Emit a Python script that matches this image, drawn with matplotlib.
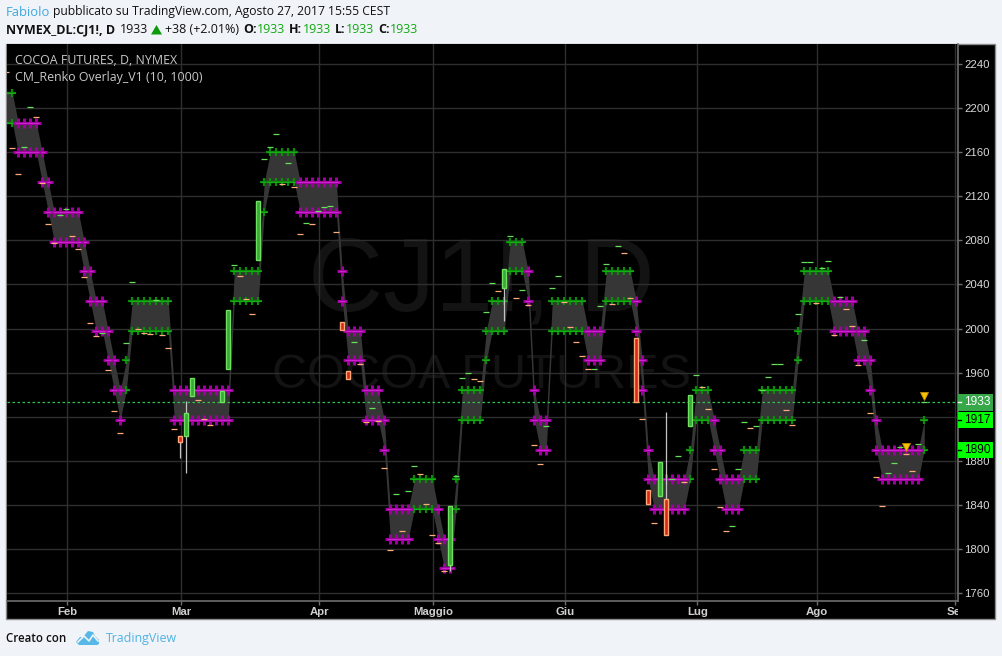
import matplotlib
matplotlib.use("Agg")
import matplotlib.pyplot as plt
from matplotlib.patches import Rectangle, Polygon
from matplotlib.transforms import Bbox

# ---------- data ----------
seg_first = [1,3,7,8,9,14,15,16,18,19,20,21,22,29,39,44,45,50,57,58,61,64,65,69,73,74,76,77,81,82,85,88,89,90,92,98,101,106,107,108,109,115,116,119,120,121,124,127,133,134,139,143,145,146,147,154]
seg_last  = [2,6,7,8,13,14,15,17,18,19,20,21,28,38,43,44,49,56,57,60,63,64,68,72,73,75,76,80,81,84,87,88,89,91,97,100,105,106,107,108,114,115,118,119,120,123,126,132,133,138,142,144,145,146,153,154]
seg_upper = [2214,2187,2160,2133,2106,2079,2052,2025,1998,1971,1944,1971,2025,1944,2052,2133,2160,2133,2052,1998,1944,1917,1836,1863,1836,1809,1863,1944,1998,2025,2079,2052,1944,1917,2025,1998,2052,2025,1971,1890,1863,1890,1944,1917,1890,1863,1890,1944,1998,2052,2025,1998,1971,1917,1890,1917]
seg_lower = [2187,2160,2133,2106,2079,2052,2025,1998,1971,1944,1917,1944,1998,1917,2025,2106,2133,2106,2025,1971,1917,1890,1809,1836,1809,1782,1836,1917,1971,1998,2052,2025,1917,1890,1998,1971,2025,1998,1944,1863,1836,1863,1917,1890,1863,1836,1863,1917,1971,2025,1998,1971,1944,1890,1863,1890]
seg_rising = [1,0,0,0,0,0,0,0,0,0,0,1,1,0,1,1,1,0,0,0,0,0,0,1,0,0,1,1,1,1,1,0,0,0,1,0,1,0,0,0,0,1,1,0,0,0,1,1,1,1,0,0,0,0,0,1]

green_dash_bars = [4,5,10,11,17,21,22,26,39,44,45,46,48,51,53,54,55,59,62,66,68,69,76,77,78,81,82,85,87,91,92,93,99,100,101,103,112,113,116,122,123,124,126,127,128,129,130,133,134,135,137,138,140,144,148,149,150,153,154]
green_dash_vals = [2165,2201,2103,2109,1996,1987,2042,2026,2058,2154,2165,2177,2150,2096,2107,2110,2111,1988,1928,1850,1852,1875,1866,1955,1960,2015,2041,2084,2035,1911,2037,2048,1963,2020,2059,2075,1863,1884,1958,1821,1872,1915,1911,1944,1956,1968,1968,2013,2060,2060,2055,2061,2029,1990,1869,1878,1892,1895,1933]
orange_dash_bars = [1,2,3,6,7,8,9,12,13,14,15,16,18,19,20,23,24,25,27,28,29,33,34,35,40,41,42,47,49,50,52,56,60,61,63,64,65,67,70,71,72,73,74,79,80,83,86,88,89,90,94,95,96,97,98,102,104,105,107,109,114,117,118,119,120,121,125,131,132,136,139,141,142,143,145,146,147,151,152]
orange_dash_vals = [2233,2164,2140,2192,2132,2095,2078,2084,2072,2047,2005,1993,1962,1925,1905,2000,1996,1995,1994,1982,1909,1935,1918,1912,2048,2027,2013,2131,2129,2086,2095,2088,1968,1915,1916,1873,1799,1816,1868,1841,1812,1805,1780,1954,1952,2034,2028,2021,1894,1877,2024,2001,1988,1975,1963,2022,2069,2028,1918,1823,1861,1947,1927,1872,1838,1816,1910,1926,1912,2023,1994,2018,2002,1967,1923,1865,1839,1886,1871]

candle_bars  = [30,31,32,37,38,43,57,58,75,84,106,108,110,111,115]
candle_open  = [1902,1902,1939,1933,1963,2062,2006,1961,1785,2037,1991,1853,1848,1845,1911]
candle_close = [1897,1923,1955,1943,2017,2116,1999,1954,1839,2054,1933,1841,1879,1812,1940]
candle_high  = [1902,1934,1955,1943,2017,2116,2006,1961,1839,2054,1991,1853,1879,1924,1940]
candle_low   = [1882,1869,1939,1933,1963,2062,1999,1954,1780,2007,1933,1841,1848,1812,1911]

signal_bars = [151,154]
signal_vals = [1892,1939]

price_ticks = [2240,2200,2160,2120,2080,2040,2000,1960,1920,1880,1840,1800,1760]
price_tick_labels = ["2240","2200","2160","2120","2080","2040","2000","1960","","1880","1840","1800","1760"]
month_bars = [11,30,53,72,94,116,136,159]
month_labels = ["Feb","Mar","Apr","Maggio","Giu","Lug","Ago","Set"]
last_price = 1933
label_prices = [1933,1917,1890]
label_texts = ["1933","1917","1890"]

# ---------- expand the renko segments ----------
bars, upper, lower, rising = [], [], [], []
for a, b, u, l, r in zip(seg_first, seg_last, seg_upper, seg_lower, seg_rising):
    for k in range(a, b + 1):
        bars.append(k); upper.append(u); lower.append(l); rising.append(r)

W, H = 1002, 656
BG = "#f0f3f8"
GRID = "#2e2e2e"
AXC = "#6e6e6e"
SANS = "Liberation Sans"
HEAD = "Open Sans"

fig = plt.figure(figsize=(W/100, H/100), dpi=100, facecolor=BG)

# chrome in pixel coordinates
back = fig.add_axes([0, 0, 1, 1], zorder=0)
back.set_xlim(0, W); back.set_ylim(H, 0); back.axis("off")
back.add_patch(Rectangle((6.5, 43.5), 989, 575.5, facecolor="black", edgecolor="#8a8a8a", lw=1))

# main pane
L, R, T, B = 7.0, 958.0, 43.8, 600.5
ax = fig.add_axes([L/W, 1-B/H, (R-L)/W, (B-T)/H], zorder=1, facecolor="black")
ax.set_xlim((L-0.3)/6, (R-0.3)/6)
ax.set_ylim(1760-(B-592.7)/1.1, 2240+(64.3-T)/1.1)
for s in ("left", "top"):
    ax.spines[s].set_visible(False)
for s in ("right", "bottom"):
    ax.spines[s].set_color(AXC); ax.spines[s].set_linewidth(1.2)
ax.set_axisbelow(True)
ax.grid(True, color=GRID, lw=1)
ax.yaxis.tick_right()
ax.set_yticks(price_ticks)
ax.set_yticklabels(price_tick_labels, fontfamily=SANS, fontsize=8.2, color="#d8d8d8")
ax.set_xticks([m + 0.17 for m in month_bars])
tl = ax.set_xticklabels(month_labels, fontfamily=SANS, fontsize=8.2, color="#d0d0d0", fontweight="bold")
ax.tick_params(axis="x", length=3, width=1, color=AXC, pad=1.5)
ax.tick_params(axis="y", length=3, width=1, color=AXC, pad=1.5)
tl[-1].set_clip_on(True)
tl[-1].set_clip_box(Bbox([[0, 0], [R, H]]))

# watermark
wm = dict(ha="center", va="center", color="#131313", family=SANS, zorder=0.5, xycoords="figure fraction", annotation_clip=False)
ax.annotate("CJ1!, D", xy=(481/W, 1-284/H), fontsize=75, **wm)
ax.annotate("COCOA FUTURES", xy=(482/W, 1-376/H), fontsize=35, **wm)

# renko band
ax.fill_between(bars, lower, upper, color="#363636", lw=0, zorder=2)

# renko crosses
for flag, col, inner, ms, mew, bar_w, line_w in ((1, "#0b8a0b", "#16b816", 6.4, 1.6, 1.1, 0.6), (0, "#a000a0", "#cc24cc", 7.4, 2.2, 1.5, 0.8)):
    xs = [k for k, r in zip(bars, rising) if r == flag]
    us = [u for u, r in zip(upper, rising) if r == flag]
    ls = [l for l, r in zip(lower, rising) if r == flag]
    for ys in (us, ls):
        ax.plot(xs, ys, ls="none", marker="+", ms=ms, mew=mew, color=col, zorder=3)
        ax.plot(xs, ys, ls="none", marker="_", ms=5.0, mew=bar_w, color=col, zorder=3)
        ax.plot(xs, ys, ls="none", marker="_", ms=5.0, mew=line_w, color=inner, zorder=3)

# last price line
ax.axhline(last_price, color="#2fc24f", lw=0.9, ls=(0, (2, 2)), zorder=4)

# candles
for k, o, c, h, lo in zip(candle_bars, candle_open, candle_close, candle_high, candle_low):
    ax.plot([k, k], [lo, h], color="#c4c4c4", lw=0.9, zorder=5, solid_capstyle="butt")
    up = c >= o
    ax.bar(k, abs(c-o), bottom=min(o, c), width=0.67,
           facecolor="#38a838" if up else "#d8281c",
           edgecolor="#70e060" if up else "#ffa878", lw=1, zorder=6)

# flat days
ax.plot(green_dash_bars, green_dash_vals, ls="none", marker="_", ms=3.7, mew=0.9, color="#66e05a", zorder=6)
ax.plot(orange_dash_bars, orange_dash_vals, ls="none", marker="_", ms=3.7, mew=0.9, color="#ffac78", zorder=6)

# signals
ax.plot(signal_bars, signal_vals, ls="none", marker="v", ms=6, mfc="#f5c400", mec="#c88a00", mew=0.6, zorder=7)

# price labels
trans = ax.get_yaxis_transform()
for p, t, bgc, fg in zip(label_prices, label_texts, ("#36a84a", "#00ff00", "#00ff00"), ("white", "black", "black")):
    ax.add_patch(Rectangle((1.0, p - 8.5 / 1.1), 35 / (R - L), 16.5 / 1.1, transform=trans,
                           facecolor=bgc, edgecolor="none", clip_on=False, zorder=8))
    ax.plot([1.0, 1.0 + 3/(R-L)], [p, p], transform=trans, color=fg, lw=1, clip_on=False, zorder=9)
    ax.text(1.0 + 19.5/(R-L), p, t, transform=trans, ha="center", va="center", family=SANS,
            fontsize=8.6, color=fg, clip_on=False, zorder=9)

# overlay text
top = fig.add_axes([0, 0, 1, 1], zorder=2)
top.set_xlim(0, W); top.set_ylim(H, 0); top.axis("off"); top.patch.set_alpha(0)

def txt(x, y, s, color="#111111", size=9.0, weight="normal", fam=HEAD, ha="left"):
    top.text(x, y, s, color=color, fontsize=size, fontweight=weight, family=fam, ha=ha, va="center")

txt(6, 12, "Fabiolo", "#3fa9e2", size=9.4)
txt(53, 12, "pubblicato su TradingView.com, Agosto 27, 2017 15:55 CEST", size=8.75)
txt(6, 29.5, "NYMEX_DL:CJ1!, D", weight="bold")
txt(120, 29.5, "1933")
top.add_patch(Polygon([[151, 34.5], [162, 34.5], [156.5, 25]], facecolor="#0a9a0a", edgecolor="none"))
txt(165, 29.5, "+38 (+2.01%)")
for x, s in ((243, "O:"), (289, "H:"), (335, "L:"), (378, "C:")):
    txt(x, 29.5, s, weight="bold")
for x in (257, 303, 346, 390):
    txt(x, 29.5, "1933", color="#12a812")

txt(15, 60.5, "COCOA FUTURES, D, NYMEX", color="#c8c8c8", size=8.9)
txt(15, 77.5, "CM_Renko Overlay_V1 (10, 1000)", color="#c8c8c8", size=8.95)

txt(6, 638.5, "Creato con", weight="semibold", size=8.3)
txt(106, 638.5, "TradingView", color="#4fb3e6", size=8.9)
# logo
top.add_patch(Polygon([[76, 642], [80, 637], [83, 637], [88, 631], [93, 632], [95, 636], [99, 640], [99, 644], [97, 645], [79, 645]],
                      facecolor="#56b8e6", edgecolor="none"))
top.plot([78, 84, 89, 93, 98], [642, 636, 641, 635, 641], color=BG, lw=1.2)

fig.savefig("out.png", dpi=100, facecolor=BG)
